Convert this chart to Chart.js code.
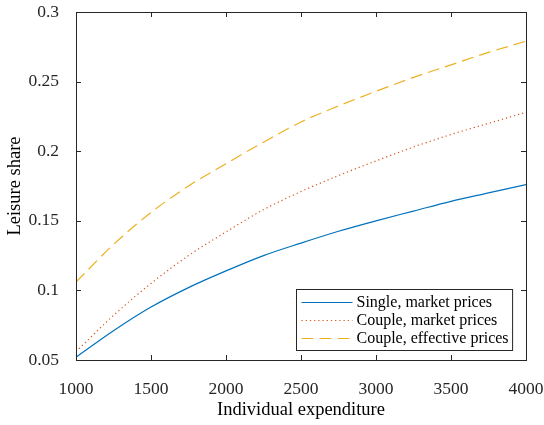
<!DOCTYPE html>
<html>
<head>
<meta charset="utf-8">
<script src="https://cdn.jsdelivr.net/npm/chart.js@4.4.1/dist/chart.umd.min.js"></script>
<style>
  html, body { margin: 0; padding: 0; background: #fff; }
  #wrap { width: 544px; height: 425px; }
</style>
</head>
<body>
<div id="wrap"><canvas id="leisure"></canvas></div>
<script>
const expenditure = [1000, 1250, 1500, 1750, 2000, 2250, 2500, 2750, 3000, 3250, 3500, 3750, 4000]
const singleMarket = [0.052, 0.071, 0.088, 0.102, 0.114, 0.125, 0.134, 0.1425, 0.150, 0.157, 0.164, 0.170, 0.176]
const coupleMarket = [0.056, 0.082, 0.105, 0.125, 0.142, 0.158, 0.171, 0.1825, 0.193, 0.203, 0.212, 0.220, 0.228]
const coupleEffective = [0.106, 0.133, 0.156, 0.175, 0.191, 0.2065, 0.221, 0.2325, 0.243, 0.253, 0.262, 0.271, 0.279]
const xTicks = [1000, 1500, 2000, 2500, 3000, 3500, 4000]
const yTicks = [0.05, 0.1, 0.15, 0.2, 0.25, 0.3]

const serif = '"Liberation Serif", "Times New Roman", serif'
const axisColor = '#262626'

function pts(ys){
    return expenditure.map((x, i) => ({x: x, y: ys[i]}))
}

// box round the plot with inward ticks, like matlab's "box on"
const boxTicks = {
    id: 'boxTicks',
    afterDatasetsDraw(chart){
        let ctx = chart.ctx, a = chart.chartArea
        let xs = chart.scales.x, ys = chart.scales.y
        ctx.save()
        ctx.strokeStyle = axisColor
        ctx.lineWidth = 1
        ctx.beginPath()
        for(let v of xTicks){
            let p = Math.round(xs.getPixelForValue(v)) + 0.5
            ctx.moveTo(p, a.bottom); ctx.lineTo(p, a.bottom - 5)
            ctx.moveTo(p, a.top); ctx.lineTo(p, a.top + 5)
        }
        for(let v of yTicks){
            let p = Math.round(ys.getPixelForValue(v)) + 0.5
            ctx.moveTo(a.left, p); ctx.lineTo(a.left + 5, p)
            ctx.moveTo(a.right, p); ctx.lineTo(a.right - 5, p)
        }
        ctx.stroke()
        ctx.strokeRect(Math.round(a.left) + 0.5, Math.round(a.top) + 0.5,
            Math.round(a.right - a.left), Math.round(a.bottom - a.top))
        ctx.restore()
    }
}

// legend sitting inside the axes, bottom right
const insideLegend = {
    id: 'insideLegend',
    afterDraw(chart){
        let ctx = chart.ctx, a = chart.chartArea
        ctx.save()
        ctx.font = '16px ' + serif
        let sets = chart.data.datasets
        let textW = Math.max(...sets.map(d => ctx.measureText(d.label).width))
        let w = 60 + textW + 4, h = 61
        let left = Math.round(a.right - 14 - w) + 0.5, top = Math.round(a.bottom - 10 - h) + 0.5
        ctx.fillStyle = '#fff'
        ctx.fillRect(left, top, w, h)
        ctx.strokeStyle = axisColor
        ctx.lineWidth = 1
        ctx.strokeRect(left, top, w, h)
        sets.forEach((d, i) => {
            let y = top + 13 + i * 18
            ctx.beginPath()
            ctx.strokeStyle = d.borderColor
            ctx.lineWidth = d.borderWidth
            ctx.setLineDash(d.borderDash || [])
            ctx.moveTo(left + 5, y)
            ctx.lineTo(left + 56, y)
            ctx.stroke()
            ctx.setLineDash([])
            ctx.fillStyle = '#000'
            ctx.textBaseline = 'middle'
            ctx.fillText(d.label, left + 60, y)
        })
        ctx.restore()
    }
}

const leisureChart = new Chart(
    document.getElementById('leisure').getContext('2d'),
    {
        type: 'line',
        data: {
            datasets: [
                {label: 'Single, market prices', data: pts(singleMarket), borderColor: '#0072BD', borderWidth: 1.2},
                {label: 'Couple, market prices', data: pts(coupleMarket), borderColor: '#D95319', borderWidth: 1.2, borderDash: [1.2, 3]},
                {label: 'Couple, effective prices', data: pts(coupleEffective), borderColor: '#EDB120', borderWidth: 1.2, borderDash: [12, 6]}
            ]
        },
        options: {
            responsive: true,
            maintainAspectRatio: false,
            animation: false,
            layout: {padding: {top: 12, right: 18, left: 0, bottom: 0}},
            elements: {
                point: {radius: 0},
                line: {cubicInterpolationMode: 'monotone', fill: false}
            },
            scales: {
                x: {
                    type: 'linear',
                    min: 1000,
                    max: 4000,
                    afterBuildTicks: s => { s.ticks = xTicks.map(v => ({value: v})) },
                    afterFit: s => { s.height = 65; s.paddingLeft = 0; s.paddingRight = 0 },
                    grid: {display: false},
                    border: {display: false},
                    ticks: {
                        color: axisColor,
                        padding: 11,
                        font: {family: serif, size: 17.5},
                        callback: v => String(v),
                        maxRotation: 0
                    },
                    title: {display: true, text: 'Individual expenditure', color: '#000', font: {family: serif, size: 18.5}, padding: {top: 2}}
                },
                y: {
                    min: 0.05,
                    max: 0.3,
                    afterBuildTicks: s => { s.ticks = yTicks.map(v => ({value: v})) },
                    afterFit: s => { s.width = 76; s.paddingTop = 0; s.paddingBottom = 0 },
                    grid: {display: false},
                    border: {display: false},
                    ticks: {
                        color: axisColor,
                        padding: 9,
                        font: {family: serif, size: 17.5},
                        callback: v => String(v)
                    },
                    title: {display: true, text: 'Leisure share', color: '#000', font: {family: serif, size: 18.5}, padding: {bottom: 2}}
                }
            },
            plugins: {legend: {display: false}, tooltip: {enabled: false}}
        },
        plugins: [boxTicks, insideLegend]
    }
)

leisureChart.update()
</script>
</body>
</html>
